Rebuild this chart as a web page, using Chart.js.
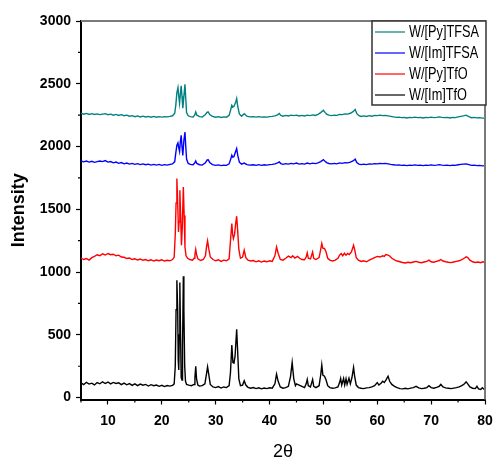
<!DOCTYPE html>
<html>
<head>
<meta charset="utf-8">
<script src="https://cdn.jsdelivr.net/npm/chart.js@4/dist/chart.umd.min.js"></script>
<style>
html,body{margin:0;padding:0;background:#fff;}
canvas{display:block;}
</style>
</head>
<body>
<canvas id="c" width="495" height="463"></canvas>
<script>
// ---- data ----
const seriesLabels = ['W/[Py]TFSA', 'W/[Im]TFSA', 'W/[Py]TfO', 'W/[Im]TfO'];
const seriesColors = ['#008080', '#0000ff', '#ff0000', '#000000'];

const xTicks = [5,10,15,20,25,30,35,40,45,50,55,60,65,70,75,80];
const xTickLabels = ['', '10', '', '20', '', '30', '', '40', '', '50', '', '60', '', '70', '', '80'];
const yTicks = [0,250,500,750,1000,1250,1500,1750,2000,2250,2500,2750,3000];
const yTickLabels = ['0','','500','','1000','','1500','','2000','','2500','','3000'];

const pyTFSA_x = [5,5.5,6,6.5,7,7.5,8,8.5,9,9.5,10,10.5,11,11.5,12,12.5,13,13.5,14,14.5,15,15.5,16,16.5,17,17.5,18,18.5,19,19.5,20,20.5,21,21.5,22,22.4,22.6,22.8,23.0,23.15,23.3,23.45,23.6,23.75,23.9,24.1,24.3,24.45,24.6,24.9,25.3,25.8,26.1,26.3,26.5,27,27.5,28.1,28.4,28.6,28.9,29.4,30,30.5,31,31.5,32,32.5,32.8,33.0,33.2,33.4,33.7,33.9,34.1,34.4,34.8,35.3,35.8,36.3,37,37.5,38,38.5,39,39.5,40,40.5,41,41.5,41.8,42.1,42.5,43,43.5,44,44.5,45,45.5,46,46.5,47,47.5,48,48.5,49,49.5,50.0,50.3,50.6,51,51.5,52,52.5,53,53.5,54,54.5,55,55.5,55.9,56.2,56.6,57,57.5,58,58.5,59,59.5,60,60.5,61,61.5,62,62.5,63,63.5,64,64.5,65,65.5,66,66.5,67,67.5,68,68.5,69,69.5,70,70.5,71,71.5,72,72.5,73,73.5,74,74.5,75,75.5,76,76.5,77,77.5,78,78.5,79,79.5,80];
const pyTFSA_y = [2265,2258,2264,2256,2262,2255,2260,2254,2258,2262,2254,2258,2250,2256,2248,2254,2246,2250,2242,2246,2238,2244,2236,2242,2236,2240,2234,2240,2234,2238,2234,2238,2236,2240,2245,2265,2330,2430,2470,2400,2345,2420,2483,2400,2305,2400,2496,2380,2270,2245,2238,2236,2250,2276,2250,2238,2235,2255,2272,2276,2255,2240,2234,2238,2232,2236,2234,2248,2295,2329,2315,2320,2350,2382,2320,2260,2242,2262,2242,2236,2238,2234,2238,2234,2236,2234,2238,2240,2244,2252,2263,2248,2242,2248,2244,2250,2246,2250,2244,2248,2244,2250,2246,2252,2248,2256,2270,2289,2272,2258,2250,2246,2250,2248,2256,2254,2260,2258,2265,2278,2295,2262,2246,2240,2244,2240,2246,2242,2248,2246,2250,2246,2248,2244,2240,2236,2232,2234,2230,2232,2228,2232,2230,2234,2230,2232,2228,2232,2230,2234,2230,2232,2236,2232,2230,2232,2228,2232,2230,2236,2240,2244,2250,2238,2230,2232,2228,2230,2226,2226];

const imTFSA_x = pyTFSA_x;
const imTFSA_y = [1885,1878,1884,1876,1882,1874,1880,1885,1880,1888,1876,1880,1870,1876,1866,1872,1862,1868,1860,1866,1858,1864,1856,1862,1855,1860,1852,1858,1852,1858,1850,1856,1852,1858,1862,1880,1950,2010,2029,1990,1960,2040,2090,2000,1930,2050,2116,2000,1900,1865,1858,1855,1868,1885,1865,1855,1852,1870,1892,1896,1872,1856,1850,1854,1848,1852,1850,1862,1900,1931,1915,1920,1960,1984,1930,1875,1860,1868,1856,1852,1855,1850,1856,1850,1855,1852,1856,1858,1862,1870,1877,1864,1858,1864,1860,1866,1862,1868,1860,1864,1860,1868,1862,1868,1864,1870,1880,1896,1882,1872,1865,1862,1866,1862,1870,1866,1872,1870,1876,1885,1899,1872,1860,1856,1860,1856,1862,1860,1864,1862,1866,1864,1866,1862,1858,1855,1852,1854,1850,1852,1848,1852,1850,1854,1850,1852,1848,1852,1850,1854,1850,1852,1856,1852,1850,1852,1848,1852,1850,1855,1858,1860,1862,1856,1850,1852,1848,1850,1846,1848];

const pyTfO_x = [5,5.5,6,6.5,7,7.5,8,8.5,9,9.5,10,10.5,11,11.5,12,12.5,13,13.5,14,14.5,15,15.5,16,16.5,17,17.5,18,18.5,19,19.5,20,20.5,21,21.5,22,22.3,22.5,22.65,22.8,22.95,23.1,23.2,23.35,23.5,23.65,23.8,24.0,24.15,24.3,24.5,24.8,25.2,25.7,26.0,26.15,26.3,26.45,26.7,27.2,27.7,28.1,28.3,28.5,28.7,29.0,29.5,30,30.5,31,31.5,32,32.5,32.75,33.0,33.15,33.3,33.5,33.7,33.9,34.1,34.3,34.6,35.0,35.3,35.6,36,36.5,37,37.5,38,38.5,39,39.5,40,40.5,41,41.3,41.6,42,42.5,43,43.5,44,44.3,44.7,45.2,45.6,46,46.5,46.8,47.0,47.2,47.6,48.0,48.2,48.6,49.2,49.5,49.7,49.9,50.2,50.5,50.8,51.2,51.7,52.2,52.7,53.0,53.3,53.6,53.9,54.2,54.5,54.8,55.2,55.6,55.8,56.1,56.5,57,57.5,58,58.5,59,59.5,60,60.5,61,61.3,61.6,62,62.3,62.7,63.2,63.7,64.2,64.7,65.2,65.7,66.2,66.7,67.2,67.7,68.2,68.7,69.2,69.6,70,70.5,71,71.5,71.8,72.2,72.7,73.2,73.7,74.2,74.7,75.2,75.7,76.2,76.5,76.8,77.2,77.7,78.2,78.7,79.2,79.6,80];
const pyTfO_y = [1112,1100,1108,1096,1115,1125,1138,1130,1145,1136,1148,1138,1142,1130,1135,1120,1118,1108,1112,1100,1106,1096,1104,1094,1100,1090,1098,1088,1096,1090,1098,1088,1094,1090,1100,1120,1300,1550,1745,1550,1320,1400,1652,1450,1214,1350,1678,1450,1200,1130,1110,1100,1095,1110,1140,1180,1140,1105,1092,1100,1130,1200,1248,1190,1120,1100,1090,1098,1085,1095,1090,1105,1250,1387,1300,1267,1300,1380,1445,1320,1180,1110,1120,1174,1115,1095,1088,1092,1082,1090,1080,1088,1082,1090,1085,1130,1200,1150,1100,1095,1110,1127,1115,1130,1112,1125,1110,1100,1098,1120,1153,1110,1105,1160,1110,1100,1115,1180,1228,1190,1188,1160,1110,1095,1088,1095,1110,1135,1148,1130,1150,1135,1148,1140,1160,1214,1180,1115,1095,1085,1090,1082,1095,1105,1115,1125,1120,1130,1125,1140,1135,1128,1110,1098,1088,1082,1076,1072,1078,1074,1080,1085,1078,1074,1080,1085,1095,1082,1078,1085,1092,1100,1088,1082,1078,1075,1080,1085,1090,1100,1112,1121,1115,1095,1082,1076,1080,1075,1082,1078];

const imTfO_x = [5,5.5,6,6.5,7,7.5,8,8.5,9,9.5,10,10.5,11,11.5,12,12.5,13,13.5,14,14.5,15,15.5,16,16.5,17,17.5,18,18.5,19,19.5,20,20.5,21,21.5,22,22.3,22.5,22.65,22.8,22.95,23.05,23.15,23.25,23.35,23.45,23.6,23.75,23.85,24.0,24.1,24.25,24.4,24.6,25.0,25.5,26.0,26.15,26.3,26.45,26.7,27.0,27.5,28.0,28.3,28.5,28.7,29.0,29.5,30.0,30.5,31.0,31.5,32.0,32.5,32.75,33.0,33.2,33.4,33.6,33.9,34.1,34.3,34.6,35.0,35.3,35.6,36.0,36.5,37,37.5,38,38.5,39,39.5,40,40.5,41,41.3,41.6,42,42.5,43,43.5,43.9,44.2,44.5,44.8,45,45.5,46,46.5,46.8,47.0,47.2,47.6,48.0,48.2,48.6,49.2,49.5,49.7,49.9,50.2,50.5,50.8,51.2,51.7,52.2,52.7,53.0,53.2,53.4,53.75,53.95,54.2,54.4,54.75,55.0,55.3,55.6,55.8,56.1,56.5,57,57.5,58,58.5,59,59.5,60,60.3,60.7,61,61.3,61.6,62.0,62.3,62.7,63.2,63.7,64.2,64.7,65.2,65.7,66.2,66.7,67.2,67.7,68.2,68.7,69.2,69.6,70,70.5,71,71.5,71.8,72.2,72.7,73.2,73.7,74.2,74.7,75.2,75.7,76.2,76.5,76.8,77.2,77.7,78.2,78.5,78.8,79.2,79.5,80];
const imTfO_y = [118,104,122,108,115,101,120,110,126,112,124,109,121,113,118,104,116,102,112,98,110,96,108,99,105,92,103,95,100,90,98,88,96,92,98,110,250,700,935,700,300,220,500,917,600,160,140,400,967,700,250,130,105,100,95,105,160,250,150,100,92,95,110,190,245,190,105,85,80,88,76,85,80,95,200,418,280,275,330,545,350,150,95,100,134,100,82,75,80,72,78,70,76,72,78,75,110,187,130,85,75,80,90,170,280,150,95,110,100,90,80,110,145,95,85,145,90,80,95,180,259,180,171,140,95,80,75,78,85,120,153,100,153,100,150,105,155,110,160,240,170,100,80,75,72,78,80,85,95,120,100,115,130,120,140,171,130,105,90,80,72,70,74,70,76,80,90,78,72,75,80,95,80,75,82,90,105,85,78,75,72,76,80,85,95,110,126,110,85,75,72,90,70,65,78,60];

const seriesX = [pyTFSA_x, imTFSA_x, pyTfO_x, imTfO_x];
const seriesY = [pyTFSA_y, imTFSA_y, pyTfO_y, imTfO_y];

// ---- chart ----
const datasets = seriesLabels.map((lab, k) => ({
  label: lab,
  data: seriesX[k].map((x, i) => ({x: x, y: seriesY[k][i]})),
  borderColor: seriesColors[k],
  backgroundColor: seriesColors[k],
  borderWidth: 1.4,
  pointRadius: 0,
  tension: 0,
  fill: false
}));

const isMinorX = v => v % 10 !== 0;
const isMinorY = v => v % 500 !== 0;

const framePlugin = {
  id: 'frame',
  afterDatasetsDraw(chart) {
    const ctx = chart.ctx;
    const a = chart.chartArea;
    const xs = chart.scales.x, ys = chart.scales.y;
    ctx.save();
    // top & right frame (grey)
    ctx.strokeStyle = '#7a7a7a';
    ctx.lineWidth = 2;
    ctx.beginPath();
    ctx.moveTo(a.left, a.top);
    ctx.lineTo(a.right, a.top);
    ctx.lineTo(a.right, a.bottom);
    ctx.stroke();
    // minor ticks
    ctx.strokeStyle = '#000';
    ctx.lineWidth = 1.2;
    ctx.beginPath();
    xTicks.forEach(v => {
      if (isMinorX(v)) {
        const px = xs.getPixelForValue(v);
        ctx.moveTo(px, a.bottom);
        ctx.lineTo(px, a.bottom + 3);
      }
    });
    yTicks.forEach(v => {
      if (isMinorY(v)) {
        const py = ys.getPixelForValue(v);
        ctx.moveTo(a.left, py);
        ctx.lineTo(a.left - 3, py);
      }
    });
    ctx.stroke();
    // legend box
    const bx0 = 372, by0 = a.top, bx1 = a.right + 1, by1 = 105;
    ctx.fillStyle = '#fff';
    ctx.fillRect(bx0, by0, bx1 - bx0, by1 - by0);
    ctx.strokeStyle = '#333';
    ctx.lineWidth = 1.5;
    ctx.strokeRect(bx0, by0, bx1 - bx0, by1 - by0);
    ctx.font = '14px "Liberation Sans", Arial, sans-serif';
    ctx.textBaseline = 'middle';
    ctx.textAlign = 'left';
    chart.data.datasets.forEach((ds, i) => {
      const yy = 32 + i * 21;
      ctx.strokeStyle = ds.borderColor;
      ctx.lineWidth = 1.2;
      ctx.beginPath();
      ctx.moveTo(375, yy);
      ctx.lineTo(405, yy);
      ctx.stroke();
      ctx.fillStyle = '#000';
      ctx.save();
      ctx.translate(409, yy + 1);
      ctx.scale(0.91, 1.15);
      ctx.fillText(ds.label, 0, 0);
      ctx.restore();
    });
    ctx.restore();
  }
};

new Chart(document.getElementById('c'), {
  type: 'line',
  data: { datasets: datasets },
  options: {
    responsive: false,
    animation: false,
    parsing: true,
    layout: { padding: { left: 0, top: 21, right: 10, bottom: 0 } },
    plugins: { legend: { display: false }, tooltip: { enabled: false } },
    scales: {
      x: {
        type: 'linear',
        min: 5, max: 80,
        afterBuildTicks: s => { s.ticks = xTicks.map(v => ({value: v})); },
        afterFit: s => { s.height = 63.5; s.paddingLeft = 0; s.paddingRight = 0; },
        ticks: {
          autoSkip: false, maxRotation: 0, padding: 8,
          color: '#000',
          font: { family: '"Liberation Sans", Arial, sans-serif', size: 14, weight: 'bold' },
          callback: (v, i) => xTickLabels[i]
        },
        grid: {
          drawOnChartArea: false, drawTicks: true, tickLength: 5,
          tickColor: c => (c.tick && isMinorX(c.tick.value)) ? 'rgba(0,0,0,0)' : '#000',
          tickWidth: 1.2
        },
        border: { display: true, color: '#000', width: 2 },
        title: {
          display: true, text: '2θ', color: '#000',
          font: { family: '"Liberation Sans", Arial, sans-serif', size: 18, weight: 'normal' },
          padding: { top: 0, bottom: 0 }
        }
      },
      y: {
        type: 'linear',
        min: -15, max: 3000,
        afterBuildTicks: s => { s.ticks = yTicks.map(v => ({value: v})); },
        afterFit: s => { s.width = 81; s.paddingTop = 0; s.paddingBottom = 0; },
        ticks: {
          padding: 5, color: '#000',
          font: { family: '"Liberation Sans", Arial, sans-serif', size: 14, weight: 'bold' },
          callback: (v, i) => yTickLabels[i]
        },
        grid: {
          drawOnChartArea: false, drawTicks: true, tickLength: 5,
          tickColor: c => (c.tick && isMinorY(c.tick.value)) ? 'rgba(0,0,0,0)' : '#000',
          tickWidth: 1.2
        },
        border: { display: true, color: '#000', width: 2 },
        title: {
          display: true, text: 'Intensity', color: '#000',
          font: { family: '"Liberation Sans", Arial, sans-serif', size: 18, weight: 'bold' },
          padding: { top: 8, bottom: 0 }
        }
      }
    }
  },
  plugins: [framePlugin]
});
</script>
</body>
</html>
